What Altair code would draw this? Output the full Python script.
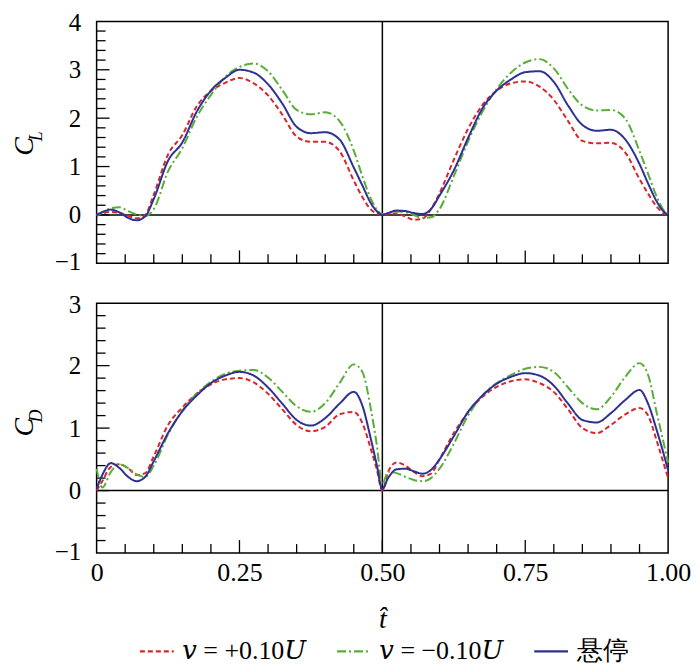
import altair as alt
import pandas as pd

# ---------------- data ----------------
T = [0, 0.01, 0.025, 0.04, 0.055, 0.07, 0.085, 0.1, 0.125, 0.15, 0.175, 0.2, 0.225,
     0.25, 0.275, 0.3, 0.325, 0.35, 0.375, 0.4, 0.425, 0.45, 0.465, 0.48, 0.49,
     0.5, 0.51, 0.525, 0.54, 0.555, 0.57, 0.585, 0.6, 0.625, 0.65, 0.675, 0.7, 0.725,
     0.75, 0.775, 0.8, 0.825, 0.85, 0.875, 0.9, 0.925, 0.95, 0.965, 0.98, 0.99, 1.0]

SERIES = ["\U0001D463 = +0.10\U0001D448", "\U0001D463 = \u22120.10\U0001D448", "悬停"]

CL_PLUS = [-0.02, 0.03, 0.06, 0.04, -0.02, -0.07, 0.0, 0.42, 1.25, 1.65, 2.24, 2.56, 2.73,
           2.83, 2.72, 2.47, 2.07, 1.62, 1.51, 1.51, 1.32, 0.71, 0.37, 0.11, 0.03,
           0.0, 0.02, 0.03, -0.03, -0.1, -0.08, 0.12, 0.45, 1.14, 1.78, 2.27, 2.57, 2.72,
           2.76, 2.65, 2.38, 1.94, 1.53, 1.48, 1.49, 1.29, 0.74, 0.44, 0.17, 0.05, 0.0]
CL_MINUS = [0.0, 0.05, 0.14, 0.16, 0.08, 0.01, -0.02, 0.12, 0.9, 1.38, 2.02, 2.48, 2.85,
            3.06, 3.13, 2.97, 2.58, 2.17, 2.08, 2.12, 1.94, 1.33, 0.8, 0.33, 0.12,
            0.02, 0.03, 0.07, 0.06, 0.0, -0.06, -0.05, 0.12, 0.8, 1.52, 2.13, 2.6, 2.94,
            3.15, 3.22, 3.03, 2.6, 2.26, 2.16, 2.17, 1.99, 1.32, 0.85, 0.38, 0.14, 0.0]
CL_HOVER = [0.0, 0.06, 0.11, 0.05, -0.06, -0.11, -0.03, 0.33, 1.12, 1.5, 2.13, 2.57, 2.83,
            3.0, 2.94, 2.7, 2.3, 1.82, 1.69, 1.71, 1.56, 0.98, 0.61, 0.24, 0.08,
            0.0, 0.04, 0.09, 0.08, 0.04, 0.02, 0.12, 0.4, 0.92, 1.59, 2.2, 2.57, 2.8,
            2.95, 2.97, 2.75, 2.26, 1.86, 1.74, 1.76, 1.56, 1.05, 0.65, 0.28, 0.1, 0.0]

CD_PLUS = [0.0, 0.15, 0.38, 0.42, 0.36, 0.25, 0.28, 0.55, 1.05, 1.33, 1.55, 1.7, 1.78,
           1.8, 1.73, 1.55, 1.3, 1.05, 0.95, 1.02, 1.22, 1.26, 1.08, 0.66, 0.35,
           0.0, 0.3, 0.45, 0.4, 0.3, 0.23, 0.27, 0.5, 0.92, 1.25, 1.5, 1.66, 1.75,
           1.78, 1.72, 1.58, 1.3, 1.0, 0.92, 1.05, 1.22, 1.32, 1.2, 0.8, 0.5, 0.2]
CD_MINUS = [0.35, 0.05, 0.3, 0.42, 0.36, 0.26, 0.22, 0.4, 0.9, 1.28, 1.55, 1.74, 1.87,
            1.92, 1.93, 1.81, 1.58, 1.35, 1.26, 1.4, 1.72, 2.02, 1.9, 1.3, 0.75,
            0.1, 0.3, 0.28, 0.22, 0.17, 0.15, 0.2, 0.35, 0.75, 1.2, 1.52, 1.72, 1.85,
            1.95, 1.98, 1.9, 1.65, 1.4, 1.3, 1.5, 1.82, 2.04, 1.85, 1.25, 0.85, 0.45]
CD_HOVER = [0.03, 0.25, 0.44, 0.36, 0.22, 0.15, 0.22, 0.47, 0.92, 1.27, 1.52, 1.72, 1.84,
            1.9, 1.84, 1.65, 1.39, 1.13, 1.04, 1.16, 1.39, 1.58, 1.36, 0.82, 0.42,
            0.02, 0.2, 0.34, 0.35, 0.31, 0.27, 0.33, 0.5, 0.87, 1.26, 1.52, 1.71, 1.82,
            1.88, 1.84, 1.68, 1.39, 1.13, 1.09, 1.24, 1.45, 1.61, 1.39, 0.97, 0.66, 0.32]

X_LABELS = [0, 0.25, 0.5, 0.75, 1.0]
X_MINOR = [0.05, 0.1, 0.15, 0.2, 0.3, 0.35, 0.4, 0.45, 0.55, 0.6, 0.65, 0.7,
           0.8, 0.85, 0.9, 0.95]
X_MAJOR = [0.25, 0.5, 0.75]

CL_LABELS = [-1, 0, 1, 2, 3, 4]
CL_MAJOR = [0, 1, 2, 3]
CL_MINOR = [-0.8, -0.6, -0.4, -0.2, 0.2, 0.4, 0.6, 0.8, 1.2, 1.4, 1.6, 1.8,
            2.2, 2.4, 2.6, 2.8, 3.2, 3.4, 3.6, 3.8]
CD_LABELS = [-1, 0, 1, 2, 3]
CD_MAJOR = [0, 1, 2]
CD_MINOR = [-0.8, -0.6, -0.4, -0.2, 0.2, 0.4, 0.6, 0.8, 1.2, 1.4, 1.6, 1.8,
            2.2, 2.4, 2.6, 2.8]

COLORS = ["#d8262c", "#5aad38", "#2e3192"]
DASHES = [[5, 3], [9, 3, 2, 3], [1, 0]]

SERIF = "Liberation Serif, 'Times New Roman', Times, 'DejaVu Serif', serif"
W = 574


def panel(vals, ydom, ylabels, ymajor, yminor, H, sub, show_x, c_dy, s_dy):
    rows = []
    for name, vv in zip(SERIES, vals):
        for t, v in zip(T, vv):
            rows.append({"t": t, "v": v, "series": name})
    df = pd.DataFrame(rows)

    if show_x:
        xaxis = alt.Axis(values=X_LABELS,
                         labelExpr="datum.value == 0 ? '0' : format(datum.value, '.2f')",
                         labelFont=SERIF, labelFontSize=26, labelColor="black", labelPadding=7,
                         labelFlush=False, labelOverlap=False, ticks=False, tickSize=0,
                         domain=False, grid=False, title="t\u0302", titleFont=SERIF,
                         titleFontSize=28, titleFontStyle="italic", titleFontWeight="normal",
                         titleColor="black", titlePadding=20)
    else:
        xaxis = None
    xs = alt.Scale(domain=[0, 1], nice=False, zero=False)
    ys = alt.Scale(domain=ydom, nice=False, zero=False)
    X = alt.X("t:Q", scale=xs, axis=xaxis)
    Y = alt.Y("v:Q", scale=ys,
              axis=alt.Axis(values=ylabels, format="d", labelFont=SERIF, labelFontSize=25,
                            labelColor="black", labelPadding=16, ticks=False, tickSize=0,
                            domain=False, grid=False, title=None, labelOverlap=False,
                            labelFlush=True, labelFlushOffset=11))

    rule = dict(color="black", strokeWidth=1.3)
    xmin = alt.Chart(pd.DataFrame({"t": X_MINOR})).mark_rule(**rule).encode(
        x=X, y=alt.value(H), y2=alt.value(H - 9))
    xmaj = alt.Chart(pd.DataFrame({"t": X_MAJOR})).mark_rule(**rule).encode(
        x=X, y=alt.value(H), y2=alt.value(H - 13))
    ymin = alt.Chart(pd.DataFrame({"v": yminor})).mark_rule(**rule).encode(
        y=Y, x=alt.value(0), x2=alt.value(9))
    ymaj = alt.Chart(pd.DataFrame({"v": ymajor})).mark_rule(**rule).encode(
        y=Y, x=alt.value(0), x2=alt.value(13))
    zero = alt.Chart(pd.DataFrame({"v": [0]})).mark_rule(color="black", strokeWidth=1.5).encode(
        y=Y, x=alt.value(0), x2=alt.value(W))
    mid = alt.Chart(pd.DataFrame({"t": [0.5]})).mark_rule(color="black", strokeWidth=1.5).encode(
        x=X, y=alt.value(0), y2=alt.value(H))

    legend = alt.Legend(title=None, orient="none", legendX=42, legendY=614,
                        direction="horizontal", symbolType="stroke",
                        symbolSize=1156, symbolStrokeWidth=2.2, labelFont=SERIF,
                        labelFontSize=26, labelColor="black", labelOffset=7,
                        columnPadding=26, labelLimit=300, padding=0)
    lines = alt.Chart(df).mark_line(interpolate="monotone", strokeWidth=2).encode(
        x=X, y=Y,
        color=alt.Color("series:N", scale=alt.Scale(domain=SERIES, range=COLORS),
                        sort=SERIES, legend=legend),
        strokeDash=alt.StrokeDash("series:N", scale=alt.Scale(domain=SERIES, range=DASHES),
                                  sort=SERIES, legend=legend),
    )

    one = pd.DataFrame({"a": [0]})
    ctext = alt.Chart(one).mark_text(text="C", font=SERIF, fontSize=28, fontStyle="italic",
                                     angle=270, align="center", baseline="middle",
                                     color="black").encode(
        x=alt.value(-72), y=alt.value(H / 2 + c_dy))
    stext = alt.Chart(one).mark_text(text=sub, font=SERIF, fontSize=18, fontStyle="italic",
                                     angle=270, align="center", baseline="middle",
                                     color="black").encode(
        x=alt.value(-60), y=alt.value(H / 2 + s_dy))

    return alt.layer(zero, mid, xmin, xmaj, ymin, ymaj, lines, ctext, stext).properties(
        width=W, height=H)


top = panel([CL_PLUS, CL_MINUS, CL_HOVER], [-1, 4], CL_LABELS, CL_MAJOR, CL_MINOR,
            243, "L", False, 4, -6)
bottom = panel([CD_PLUS, CD_MINUS, CD_HOVER], [-1, 3], CD_LABELS, CD_MAJOR, CD_MINOR,
               251, "D", True, -1, -12)

chart = alt.vconcat(top, bottom, spacing=16).properties(
    padding={"left": 2, "top": 0, "right": 0, "bottom": 0}
).configure_view(stroke="black", strokeWidth=1.5)

chart.save("out.html", embed_options={"renderer": "svg", "actions": False})
